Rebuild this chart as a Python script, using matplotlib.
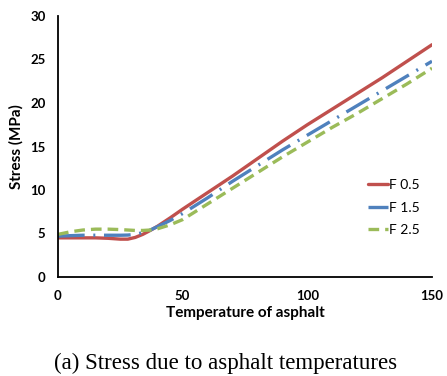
import matplotlib
matplotlib.use("Agg")
import matplotlib.pyplot as plt
import numpy as np

temperature = [0, 5, 10, 15, 20, 25, 28, 31, 34, 37, 40, 45, 50, 60, 70, 80, 90, 100, 110, 120, 130, 140, 150]
f05 = [4.5, 4.5, 4.5, 4.5, 4.45, 4.35, 4.35, 4.55, 4.9, 5.35, 5.85, 6.8, 7.8, 9.7, 11.6, 13.6, 15.6, 17.5, 19.3, 21.1, 22.9, 24.8, 26.7]
f15 = [4.7, 4.75, 4.8, 4.8, 4.8, 4.8, 4.82, 4.9, 5.1, 5.4, 5.8, 6.5, 7.3, 9.1, 11.0, 12.8, 14.6, 16.3, 18.0, 19.7, 21.4, 23.1, 24.8]
f25 = [4.9, 5.2, 5.4, 5.5, 5.5, 5.45, 5.4, 5.35, 5.35, 5.4, 5.55, 6.0, 6.6, 8.4, 10.2, 12.0, 13.8, 15.5, 17.2, 18.8, 20.5, 22.2, 24.0]
labels = ["F 0.5", "F 1.5", "F 2.5"]
xticks = [0, 50, 100, 150]
yticks = [0, 5, 10, 15, 20, 25, 30]

fig = plt.figure(figsize=(4.47, 3.76), dpi=100)
ax = fig.add_axes([58/447, 1-277/376, (432-58)/447, (277-16)/376])

lw = 2.4
ax.plot(temperature, f05, color="#C0504D", lw=lw, solid_capstyle="round", solid_joinstyle="round", label=labels[0])
ax.plot(temperature, f15, color="#4F81BD", lw=lw, linestyle=(0, (8, 2.6, 0.6, 2.6)), label=labels[1])
ax.plot(temperature, f25, color="#9BBB59", lw=lw, linestyle=(0, (3.2, 1.8)), label=labels[2])

ax.set_xlim(0, 150)
ax.set_ylim(0, 30)
ax.set_xticks(xticks)
ax.set_yticks(yticks)
for s in ["top", "right"]:
    ax.spines[s].set_visible(False)
for s in ["left", "bottom"]:
    ax.spines[s].set_linewidth(1.3)
ax.tick_params(length=0, labelsize=9.5, pad=9)
for t in ax.get_xticklabels() + ax.get_yticklabels():
    t.set_fontfamily("Lato")
    t.set_fontweight("bold")

ax.set_xlabel("Temperature of asphalt", fontfamily="Lato", fontweight="bold", fontsize=11, labelpad=3)
ax.set_ylabel("Stress (MPa)", fontfamily="Lato", fontweight="bold", fontsize=11, labelpad=5)

leg = ax.legend(loc="center left", bbox_to_anchor=(355/447, 1-207.5/376), bbox_transform=fig.transFigure,
                frameon=False, prop={"family": "Lato", "size": 10}, handlelength=1.45,
                handletextpad=0.1, labelspacing=0.75)

fig.text(226/447, 1-363/376, "(a) Stress due to asphalt temperatures", ha="center", va="center",
         fontfamily="Liberation Serif", fontsize=16.5)

fig.savefig("out.png", dpi=100)
